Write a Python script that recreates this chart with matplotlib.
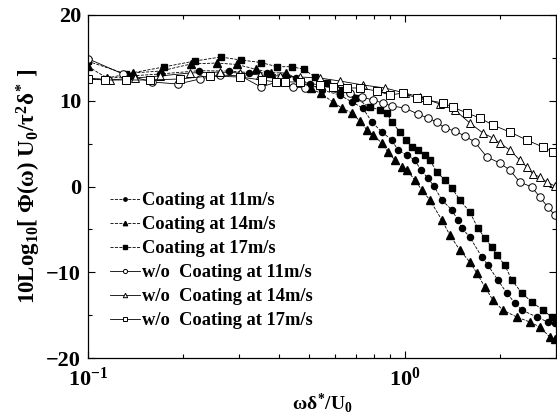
import matplotlib
matplotlib.use("Agg")
import matplotlib.pyplot as plt
from matplotlib.ticker import MultipleLocator, LogLocator, NullFormatter

plt.rcParams["font.family"] = ["Liberation Serif", "DejaVu Serif"]
plt.rcParams["font.weight"] = "bold"
plt.rcParams["axes.labelweight"] = "bold"
plt.rcParams["mathtext.fontset"] = "custom"
plt.rcParams["mathtext.rm"] = "Liberation Serif:bold"
plt.rcParams["mathtext.it"] = "Liberation Serif:bold"
plt.rcParams["mathtext.bf"] = "Liberation Serif:bold"

# Coating at 11 m/s
c11_x = [0.100, 0.1123, 0.1357, 0.1687, 0.2240, 0.2785, 0.3220, 0.3671, 0.4183, 0.4531,
         0.5015, 0.5473, 0.6237, 0.6806, 0.7371, 0.7868, 0.8462, 0.9099, 0.9504, 1.0146,
         1.0753, 1.1232, 1.1820, 1.2344, 1.3086, 1.4073, 1.4696, 1.5131, 1.6032, 1.7501,
         1.8274, 1.9656, 2.0980, 2.2233, 2.3394, 2.6089, 2.8258, 2.9731]
c11_y = [12.5, 12.54, 12.89, 13.12, 13.50, 13.47, 13.29, 13.24, 12.89, 12.71,
         11.95, 11.25, 10.67, 9.85, 9.15, 7.52, 6.36, 5.42, 4.26, 3.67,
         3.09, 1.92, 0.99, 0.06, -1.57, -2.74, -3.91, -4.84, -5.89, -8.22,
         -9.15, -10.90, -12.42, -13.59, -14.40, -15.22, -15.80, -15.92]

# Coating at 14 m/s
c14_x = [0.100, 0.1148, 0.1387, 0.1699, 0.2113, 0.2552, 0.2951, 0.3388, 0.3777, 0.4214,
         0.4665, 0.5051, 0.5433, 0.5929, 0.6329, 0.6806, 0.7211, 0.7590, 0.7925, 0.8462,
         0.8838, 0.9301, 0.9784, 1.0146, 1.0753, 1.1315, 1.1993, 1.3086, 1.3868, 1.4911,
         1.6032, 1.6870, 1.7890, 1.8954, 2.0375, 2.2560, 2.4796, 2.6667, 2.8674, 2.9731]
c14_y = [14.0, 12.65, 13.24, 13.47, 14.29, 14.40, 14.23, 13.67, 13.27, 13.24,
         12.42, 11.43, 10.85, 9.85, 9.15, 8.57, 7.64, 6.59, 6.01, 5.07,
         4.02, 3.09, 2.27, 1.92, 0.76, -0.41, -1.57, -3.91, -5.66, -7.41,
         -8.80, -10.09, -11.72, -13.24, -14.40, -15.22, -15.80, -16.38, -17.55, -17.78]

# Coating at 17 m/s
c17_x = [0.100, 0.1318, 0.1736, 0.2176, 0.2628, 0.3039, 0.3513, 0.3947, 0.4401, 0.4802,
         0.5202, 0.5675, 0.6237, 0.6955, 0.7756, 0.8339, 0.8774, 0.9099, 0.9643, 1.0074,
         1.0522, 1.0990, 1.1564, 1.1993, 1.2618, 1.3371, 1.4073, 1.4911, 1.6032, 1.6993,
         1.7890, 1.8815, 1.9511, 2.0673, 2.1752, 2.3394, 2.5158, 2.7250, 2.9088]
c17_y = [14.6, 13.12, 13.94, 14.64, 15.10, 14.75, 14.46, 13.97, 13.97, 13.67,
         12.77, 12.07, 11.25, 10.32, 9.27, 8.92, 8.57, 7.52, 6.36, 5.42,
         4.61, 4.26, 3.67, 3.09, 1.69, 0.76, -0.17, -1.57, -2.97, -4.84,
         -6.01, -7.06, -7.99, -9.15, -10.90, -12.42, -13.47, -14.40, -15.22]

# w/o Coating at 11 m/s
w11_x = [0.100, 0.1289, 0.1592, 0.1922, 0.2256, 0.2608, 0.3039, 0.3513, 0.3947, 0.4433,
         0.4837, 0.5394, 0.6016, 0.6706, 0.7317, 0.7925, 0.8524, 0.9099, 1.0000, 1.0990,
         1.1820, 1.2618, 1.3371, 1.4380, 1.5463, 1.6627, 1.8144, 1.9941, 2.1439, 2.3056,
         2.5158, 2.6667, 2.8258, 2.9731]
w11_y = [14.9, 13.12, 12.19, 11.95, 12.54, 13.00, 12.89, 11.60, 12.19, 11.60,
         11.49, 11.72, 11.49, 10.90, 10.44, 10.09, 9.74, 9.39, 9.15, 8.45,
         7.99, 7.52, 6.82, 6.47, 5.89, 5.19, 3.44, 2.74, 1.92, 0.52,
         -0.06, -1.22, -2.39, -3.32]

# w/o Coating at 14 m/s
w14_x = [0.100, 0.1173, 0.1407, 0.1687, 0.2098, 0.2608, 0.3016, 0.3488, 0.4034, 0.4665,
         0.5394, 0.6237, 0.7371, 0.8649, 1.0000, 1.1150, 1.2898, 1.4380, 1.6032, 1.7630,
         1.8954, 1.9941, 2.1439, 2.3056, 2.4259, 2.5344, 2.6667, 2.8053, 2.9731]
w14_y = [12.65, 12.42, 12.65, 12.89, 13.24, 13.35, 13.24, 13.00, 12.89, 12.77,
         12.65, 12.30, 11.84, 11.49, 10.90, 10.44, 9.62, 8.92, 7.41, 6.24,
         5.66, 5.07, 4.26, 3.09, 2.27, 1.46, 1.11, 0.52, 0.06]

# w/o Coating at 17 m/s
w17_x = [0.100, 0.1131, 0.1318, 0.1569, 0.1950, 0.2426, 0.3016, 0.3539, 0.3918, 0.4183,
         0.4665, 0.5394, 0.5929, 0.6561, 0.7211, 0.8160, 0.8970, 0.9856, 1.0911, 1.1733,
         1.3183, 1.4172, 1.5690, 1.7243, 1.8954, 2.1439, 2.4259, 2.7250, 2.9302]
w17_y = [12.54, 12.42, 12.42, 12.42, 12.54, 12.89, 12.77, 12.42, 12.19, 12.19,
         12.19, 11.84, 11.60, 11.49, 11.49, 11.14, 10.67, 10.90, 10.32, 10.09,
         9.74, 9.27, 8.57, 7.99, 7.17, 6.36, 5.42, 4.61, 4.02]

labels = ["Coating at 11m/s", "Coating at 14m/s", "Coating at 17m/s",
          "w/o  Coating at 11m/s", "w/o  Coating at 14m/s", "w/o  Coating at 17m/s"]

fig = plt.figure(figsize=(5.57, 4.18), dpi=100)
ax = fig.add_axes([88 / 557, 1 - 358 / 418, 468 / 557, 343 / 418])

lw = 0.6
ax.plot(c11_x, c11_y, "--", color="black", lw=lw, marker="o", ms=4.4, mfc="black", mec="black", label=labels[0])
ax.plot(c14_x, c14_y, "--", color="black", lw=lw, marker="^", ms=5.8, mfc="black", mec="black", label=labels[1])
ax.plot(c17_x, c17_y, "--", color="black", lw=lw, marker="s", ms=5.0, mfc="black", mec="black", label=labels[2])
ax.plot(w11_x, w11_y, "-", color="black", lw=lw, marker="o", ms=5.4, mfc="white", mec="black", mew=0.7, label=labels[3])
ax.plot(w14_x, w14_y, "-", color="black", lw=lw, marker="^", ms=5.8, mfc="white", mec="black", mew=0.7, label=labels[4])
ax.plot(w17_x, w17_y, "-", color="black", lw=lw, marker="s", ms=5.4, mfc="white", mec="black", mew=0.7, label=labels[5])

ax.set_xscale("log")
ax.set_xlim(0.1, 3.0)
ax.set_ylim(-20, 20)
ax.yaxis.set_major_locator(MultipleLocator(10))
ax.yaxis.set_minor_locator(MultipleLocator(5))
ax.xaxis.set_major_locator(LogLocator(base=10))
ax.xaxis.set_minor_locator(LogLocator(base=10, subs=range(2, 10)))
ax.xaxis.set_minor_formatter(NullFormatter())
ax.tick_params(which="both", direction="in", top=True, right=True, width=0.8)
ax.tick_params(which="major", length=5)
ax.tick_params(which="minor", length=3)
ax.tick_params(axis="y", labelsize=16, pad=5)
ax.tick_params(axis="x", labelsize=16, pad=7)
for sp in ax.spines.values():
    sp.set_linewidth(0.9)

ax.set_xticks([0.1, 1.0])
ax.set_xticklabels([r"$10^{-1}$", r"$10^{0}$"])
for t in ax.get_yticklabels():
    t.set_fontweight("bold")

ax.set_xlabel(r"$\omega\delta^{*}/U_{0}$", fontsize=14, labelpad=0)
ax.set_ylabel(r"10Log$_{10}$[ $\Phi(\omega)$ U$_{0}$/$\tau^{2}\delta^{*}$ ]", fontsize=16.5, labelpad=2)

ax.legend(loc="upper left", bbox_to_anchor=(110 / 557, 1 - 192 / 418), bbox_transform=fig.transFigure,
          frameon=False, fontsize=13.3, handlelength=1.6, handletextpad=0.15,
          labelspacing=0.38, markerscale=0.55, borderaxespad=0, borderpad=0)

fig.savefig("out.png", dpi=100)
